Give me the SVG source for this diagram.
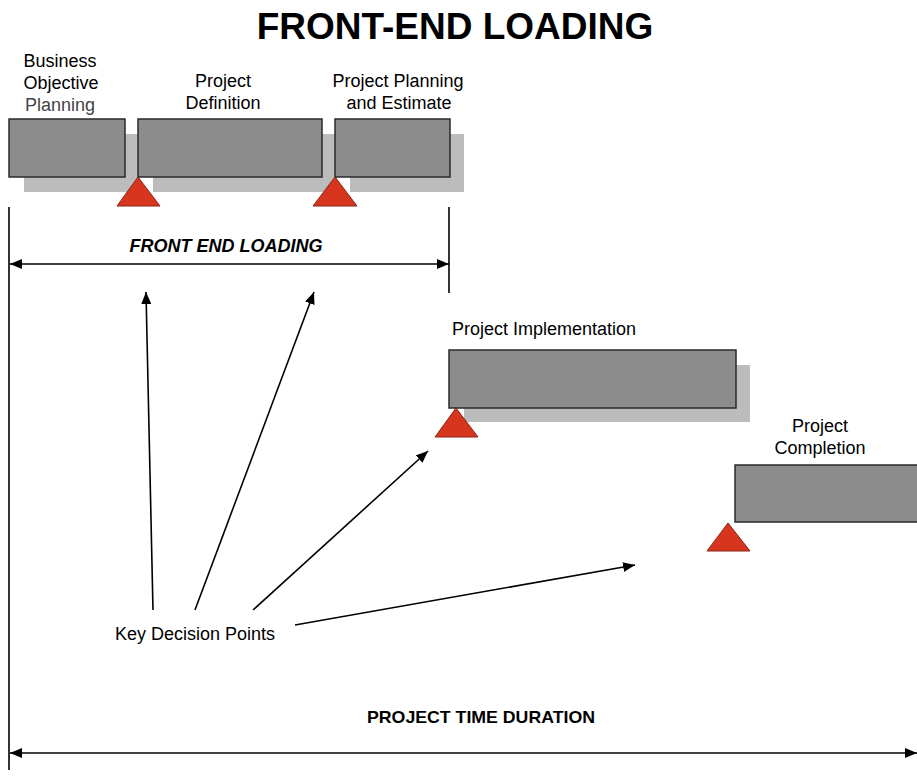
<svg xmlns="http://www.w3.org/2000/svg" width="917" height="776" viewBox="0 0 917 776">
<defs>
<marker id="ah" viewBox="0 0 12 10" refX="12" refY="5" markerWidth="12" markerHeight="10" markerUnits="userSpaceOnUse" orient="auto-start-reverse">
<path d="M0,0 L12,5 L0,10 Z" fill="#000"/>
</marker>
<style>
.t{font-family:"Liberation Sans",Arial,sans-serif;font-size:18px;fill:#000;text-anchor:middle}
.box{fill:#8c8c8c;stroke:#2a2a2a;stroke-width:1.5}
.sh{fill:#bcbcbc}
.tri{fill:#d8351f;stroke:#8a2414;stroke-width:1}
.ln{stroke:#000;stroke-width:1.6;fill:none}
</style>
</defs>
<rect width="917" height="776" fill="#fff"/>
<text x="455" y="39" class="t" style="font-size:37px;font-weight:bold">FRONT-END LOADING</text>

<g id="shadows">
<rect class="sh" x="24" y="134" width="116" height="58"/>
<rect class="sh" x="153" y="134" width="184" height="58"/>
<rect class="sh" x="350" y="134" width="114" height="58"/>
<rect class="sh" x="464" y="365" width="286" height="57"/>
</g>

<g id="business-objective-planning">
<rect class="box" x="9" y="119" width="116" height="58"/>
<text class="t" x="60" y="67">Business</text>
<text class="t" x="61" y="89">Objective</text>
<text class="t" x="60" y="111" style="fill:#444">Planning</text>
</g>
<g id="project-definition">
<rect class="box" x="138" y="119" width="184" height="58"/>
<text class="t" x="223" y="87">Project</text>
<text class="t" x="223" y="109">Definition</text>
</g>
<g id="project-planning">
<rect class="box" x="335" y="119" width="115" height="58"/>
<text class="t" x="398" y="87">Project Planning</text>
<text class="t" x="399" y="109">and Estimate</text>
</g>
<g id="project-implementation">
<rect class="box" x="449" y="350" width="287" height="58"/>
<text class="t" x="452" y="335" style="text-anchor:start">Project Implementation</text>
</g>
<g id="project-completion">
<rect class="box" x="735" y="465" width="190" height="57"/>
<text class="t" x="820" y="432">Project</text>
<text class="t" x="820" y="454">Completion</text>
</g>

<g id="decision-points">
<polygon class="tri" points="138,177 117,206 160,206"/>
<polygon class="tri" points="335,177 313,206 357,206"/>
<polygon class="tri" points="456,408 435,437 478,437"/>
<polygon class="tri" points="728,523 707,551 750,551"/>
</g>

<g id="key-decision-points">
<text class="t" x="195" y="640">Key Decision Points</text>
</g>

<g id="connectors">
<line class="ln" x1="9" y1="207" x2="9" y2="770"/>
<line class="ln" x1="449" y1="207" x2="449" y2="293"/>
<line class="ln" x1="10" y1="264" x2="449" y2="264" marker-start="url(#ah)" marker-end="url(#ah)"/>
<line class="ln" x1="10" y1="753" x2="917" y2="753" marker-start="url(#ah)" marker-end="url(#ah)"/>
<line class="ln" x1="153" y1="610" x2="146" y2="292" marker-end="url(#ah)"/>
<line class="ln" x1="195" y1="610" x2="314" y2="292" marker-end="url(#ah)"/>
<line class="ln" x1="253" y1="610" x2="428" y2="451" marker-end="url(#ah)"/>
<line class="ln" x1="295" y1="625" x2="635" y2="565" marker-end="url(#ah)"/>
</g>

<text class="t" x="226" y="252" style="font-weight:bold;font-style:italic">FRONT END LOADING</text>
<text class="t" x="481" y="723" style="font-weight:bold;font-size:17px" textLength="228" lengthAdjust="spacingAndGlyphs">PROJECT TIME DURATION</text>
</svg>
